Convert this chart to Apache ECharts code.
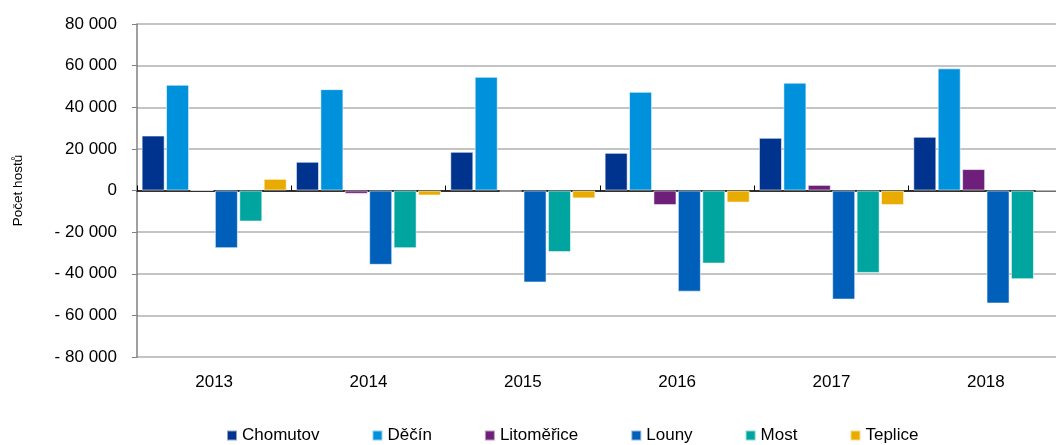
<!DOCTYPE html>
<html>
<head>
<meta charset="utf-8">
<script src="https://cdn.jsdelivr.net/npm/echarts@6/dist/echarts.min.js"></script>
<style>
  html, body { margin: 0; padding: 0; background: #fff; }
  #chart { width: 1056px; height: 445px; }
</style>
</head>
<body>
<div id="chart"></div>
<script>
const years = ["2013", "2014", "2015", "2016", "2017", "2018"]
const chomutov = [26400, 13800, 18600, 18100, 25300, 25800]
const decin = [50800, 48700, 54600, 47400, 51800, 58700]
const litomerice = [0, -1600, -500, -7000, 2700, 10300]
const louny = [-27700, -35700, -44200, -48600, -52400, -54300]
const most = [-14900, -27700, -29600, -35100, -39600, -42600]
const teplice = [5600, -2400, -3800, -5800, -7000, -300]

const seriesDefs = [
    ["Chomutov", chomutov, "#00338d"],
    ["Děčín", decin, "#0091dc"],
    ["Litoměřice", litomerice, "#6e1f7a"],
    ["Louny", louny, "#0060b9"],
    ["Most", most, "#00a59f"],
    ["Teplice", teplice, "#eaab00"],
]

const font = "'Liberation Sans', Arial, sans-serif"

function fmt(v) {
    const s = String(Math.abs(v)).replace(/\B(?=(\d{3})+(?!\d))/g, " ")
    return v < 0 ? "- " + s : s
}

const chart = echarts.init(document.getElementById("chart"), null, { renderer: "canvas" })

chart.setOption({
    animation: false,
    textStyle: { fontFamily: font },
    grid: { left: 137, right: -7, top: 24, bottom: 88, outerBoundsMode: "none" },
    legend: {
        left: 226,
        top: 427,
        padding: 0,
        itemWidth: 10,
        itemHeight: 10,
        itemGap: 52,
        icon: "rect",
        textStyle: { fontSize: 17, color: "#000", fontFamily: font, padding: [0, 0, 0, 0] },
    },
    xAxis: [
        {
            type: "category",
            data: years,
            position: "bottom",
            axisLine: { show: false, onZero: false },
            axisTick: { show: false },
            axisLabel: { fontSize: 17, color: "#000", margin: 17 },
        },
        {
            type: "category",
            data: years,
            axisLine: { onZero: true, lineStyle: { color: "#000", width: 1.5 } },
            axisTick: { show: true, length: 5, lineStyle: { color: "#000" } },
            axisLabel: { show: false },
        },
    ],
    yAxis: {
        type: "value",
        min: -80000,
        max: 80000,
        interval: 20000,
        name: "Počet hostů",
        nameLocation: "middle",
        nameGap: 112,
        nameTextStyle: { fontSize: 13.5, color: "#000" },
        axisLine: { show: true, lineStyle: { color: "#808080", width: 1.5 } },
        axisTick: { show: true, length: 5, lineStyle: { color: "#808080" } },
        axisLabel: { fontSize: 17, color: "#000", margin: 20, formatter: fmt },
        splitLine: { lineStyle: { color: "#c4c4c4", width: 2 } },
    },
    series: seriesDefs.map(([name, values, color]) => ({
        name,
        type: "bar",
        xAxisIndex: 0,
        data: values,
        barGap: "6%",
        barCategoryGap: "6%",
        itemStyle: { color, borderColor: "rgba(255,255,255,0.55)", borderWidth: 1 },
    })),
})
</script>
</body>
</html>
